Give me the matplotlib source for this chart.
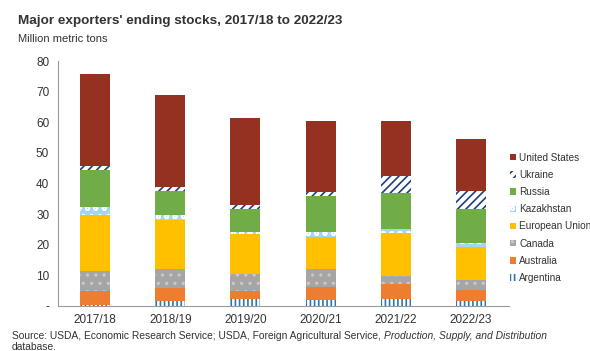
import numpy as np
import matplotlib.pyplot as plt

plt.rcParams['font.family'] = ['Liberation Sans', 'DejaVu Sans']
plt.rcParams['hatch.linewidth'] = 1.2

# Ending stocks, million metric tons
years = ["2017/18", "2018/19", "2019/20", "2020/21", "2021/22", "2022/23"]
argentina = [0.2, 1.6, 2.4, 2.0, 2.4, 1.6]
australia = [4.7, 4.2, 2.5, 4.3, 4.7, 3.5]
canada = [6.6, 6.2, 5.5, 5.7, 2.7, 3.4]
eu = [18.2, 16.1, 13.2, 10.7, 13.9, 10.8]
kazakhstan = [2.5, 1.7, 0.7, 1.6, 1.4, 1.3]
russia = [12.1, 7.7, 7.3, 11.5, 11.7, 11.1]
ukraine = [1.4, 1.5, 1.4, 1.6, 5.6, 6.0]
us = [30.0, 29.9, 28.4, 23.0, 18.0, 16.9]

series = [
    ("Argentina", argentina, "white", "#2E75B6", "||||"),
    ("Australia", australia, "#ED7D31", "#ED7D31", None),
    ("Canada", canada, "#A5A5A5", "#C8C8C8", ".."),
    ("European Union", eu, "#FFC000", "#FFC000", None),
    ("Kazakhstan", kazakhstan, "#9ED8F2", "white", "oo"),
    ("Russia", russia, "#70AD47", "#70AD47", None),
    ("Ukraine", ukraine, "white", "#203F78", "////"),
    ("United States", us, "#943121", "#943121", None),
]

fig = plt.figure(figsize=(5.9, 3.51), dpi=100)
ax = fig.add_axes([0.0975, 0.128, 0.7645, 0.698])

x = np.arange(len(years))
bottom = np.zeros(len(years))
handles = []
for name, vals, face, edge, hatch in series:
    b = ax.bar(x, vals, 0.4, bottom=bottom, color=face, edgecolor=edge,
               hatch=hatch, linewidth=0, label=name)
    handles.append(b)
    bottom += np.array(vals)

ax.set_xlim(-0.5, len(years) - 0.5)
ax.set_ylim(0, 80)
ax.set_xticks(x)
ax.set_xticklabels(years, fontsize=8.5, color="#333333")
ax.set_yticks(range(0, 81, 10))
ax.set_yticklabels(["-"] + [str(v) for v in range(10, 81, 10)], fontsize=8.5, color="#333333")
ax.tick_params(length=0, pad=6)
for s in ["top", "right"]:
    ax.spines[s].set_visible(False)
ax.spines["bottom"].set_color("#999999")
ax.spines["left"].set_color("#999999")

ax.legend(handles[::-1], [h.get_label() for h in handles[::-1]],
          loc="center left", bbox_to_anchor=(0.99, 0.36), frameon=False,
          fontsize=7.2, handlelength=0.6, handleheight=0.6, handletextpad=0.3,
          labelspacing=0.72, borderaxespad=0.2, labelcolor="#333333")

fig.text(0.03, 0.94, "Major exporters' ending stocks, 2017/18 to 2022/23",
         fontsize=9.7, fontweight="bold", color="#333333", va="center")
fig.text(0.03, 0.89, "Million metric tons", fontsize=8, color="#333333", va="center")

# source note: plain part followed by italic database name
src = fig.text(0.02, 0.035,
               "Source: USDA, Economic Research Service; USDA, Foreign Agricultural Service, ",
               fontsize=7.4, color="#333333", va="baseline")
ax.annotate("Production, Supply, and Distribution", xy=(1, 0), xycoords=src,
            fontsize=7.4, color="#333333", style="italic", va="bottom", ha="left",
            annotation_clip=False)
fig.text(0.02, 0.003, "database.", fontsize=7.4, color="#333333", va="baseline")

fig.savefig("out.png", dpi=100)
